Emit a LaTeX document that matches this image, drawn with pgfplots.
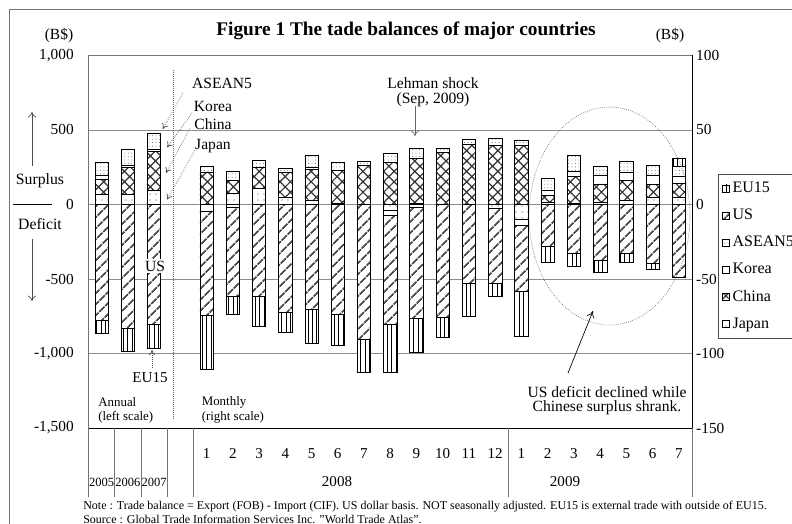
\documentclass[border=0pt]{standalone}
\usepackage{fontspec}
\setmainfont{Liberation Serif}
\usepackage{pgfplots}
\pgfplotsset{compat=1.18}
\usepackage{pgfplotstable}
\usetikzlibrary{patterns.meta,arrows.meta}

% Annual (left scale, B$)
\pgfplotstableread{
x Japan China Korea Asean
0 70 102 23 85
1 65 181 16 107
2 94 262 15 105
}\posA
\pgfplotstableread{
x US EU
0 -779 -87
1 -834 -150
2 -807 -157
}\negA
% Monthly (right scale, B$)
\pgfplotstableread{
x Japan China Korea Asean US EU
4 0.3 21.5 0 3.9 0 0
5 7.5 8.8 0 6.1 0 0
6 11 14 0 4.5 0 0
7 4.5 17.2 0 2.3 0 0
8 3.1 20.8 0.7 8.7 0 0
9 0.5 22.4 0 5.3 0 0
10 0.4 25.7 0 2.9 0 0
11 0 28.4 0 6 0 0
12 0.5 30.2 0 6.7 0 0
13 0.4 34.6 0 3 0 0
14 0 40.2 0 3.2 0 0
15 0 39.5 0 5.2 0 0
16 0 39.6 0 3.4 0 0
17 1.5 4.8 3.4 7.8 0 0
18 0.9 17.9 3.6 10.5 0 0
19 1.5 12.3 6 5.8 0 0
20 2.7 13.4 5.6 7.2 0 0
21 5.1 8.3 6 6.8 0 0
22 4.9 9.4 4.9 6.2 0 5.6
}\posM
\pgfplotstableread{
x Japan Korea US EU
4 0 -4.5 -70 -35.8
5 0 -1.8 -59.7 -12.5
6 0 0 -61.5 -20.1
7 0 0 -72.7 -13.4
8 0 0 -70.7 -22.8
9 0 0 -73.4 -21.2
10 0 0 -90.2 -22.5
11 -3.6 -3.8 -72.7 -32.5
12 0 -2.2 -74.5 -22.4
13 0 0 -75.6 -13.4
14 0 0 -52.8 -22.3
15 -2.9 0 -49.9 -8.7
16 -10.3 -3.8 -44.1 -30.4
17 0 0 -28.2 -10.5
18 0 0 -33.1 -8.5
19 0 0 -37.6 -7.8
20 0 0 -33.1 -5.6
21 0 0 -39.8 -3.4
22 0 0 -48.8 0
}\negM

\pgfplotsset{
  myleg/.style={legend image code/.code={\draw[##1,draw=black,line width=0.4pt] (0pt,-2.7pt) rectangle (5.4pt,2.7pt);}},
  sJapan/.style={draw=black, line width=0.5pt, fill=white, postaction={pattern={Dots[distance=4.5pt,radius=0.45pt]}, pattern color=black!70}, myleg},
  sChina/.style={draw=black, line width=0.5pt, fill=white, postaction={pattern={Hatch[angle=45,distance=5.5pt,line width=0.9pt]}, pattern color=black!80}, myleg},
  sKorea/.style={draw=black, line width=0.5pt, fill=white, myleg},
  sAsean/.style={draw=black, line width=0.5pt, fill=white, postaction={pattern={Dots[distance=2.6pt,radius=0.35pt]}, pattern color=black!65}, myleg},
  sUS/.style={draw=black, line width=0.5pt, fill=white, postaction={pattern={Lines[angle=45,distance=6.5pt,line width=1.4pt]}, pattern color=black!70}, myleg},
  sEU/.style={draw=black, line width=0.5pt, fill=white, postaction={pattern={Lines[angle=90,distance=3.3pt,line width=0.5pt]}, pattern color=black}, myleg},
  base/.style={at={(66.375pt,72pt)}, anchor=south west, scale only axis,
    width=452.6pt, height=279.4pt, xmin=-0.5, xmax=22.5,
    ybar stacked, bar width=0.51},
}

\begin{document}
\begin{tikzpicture}
\begin{scope}[x=0.75pt,y=-0.75pt,yshift=393pt]
\useasboundingbox (0,0) rectangle (792,524);
\draw[black!55, line width=0.6pt] (9,530) -- (9,9) -- (800,9);
\end{scope}

% Axis 1: annual positive, left scale, grid
\begin{axis}[base, ymin=-1500, ymax=1000, ytick={-1500,-1000,...,1000},
  ymajorgrids, grid style={black!45, line width=0.6pt},
  axis line style={black!55, line width=0.6pt}, major tick length=0pt,
  xtick={4,...,22}, xticklabels={1,2,3,4,5,6,7,8,9,10,11,12,1,2,3,4,5,6,7},
  yticklabel style={/pgf/number format/1000 sep={,}, /pgf/number format/assume math mode=true,
    font=\fontsize{11.5}{13}\selectfont, inner sep=0pt, xshift=-10.9pt},
  xticklabel style={font=\fontsize{11.3}{13}\selectfont, inner sep=0pt, anchor=center, yshift=-19pt}]
\addplot[sJapan] table[x=x,y=Japan]{\posA};
\addplot[sChina] table[x=x,y=China]{\posA};
\addplot[sKorea] table[x=x,y=Korea]{\posA};
\addplot[sAsean] table[x=x,y=Asean]{\posA};
\end{axis}

% Axis 2: annual negative
\begin{axis}[base, hide axis, ymin=-1500, ymax=1000]
\addplot[sUS] table[x=x,y=US]{\negA};
\addplot[sEU] table[x=x,y=EU]{\negA};
\end{axis}

% Axis 3: monthly positive, right scale, legend
\begin{axis}[base, ymin=-150, ymax=100, ytick={-150,-100,...,100},
  axis x line=none, axis y line*=right, axis line style={black, line width=0.7pt},
  major tick length=0pt,
  yticklabel style={/pgf/number format/assume math mode=true,
    font=\fontsize{11.5}{13}\selectfont, inner sep=0pt, anchor=west, xshift=3pt},
  reverse legend,
  legend cell align=left,
  legend style={overlay, at={(1.043,0.682)}, anchor=north west, draw=black!70, line width=0.5pt,
    font=\fontsize{12}{13}\selectfont, inner xsep=3pt, inner ysep=4pt, row sep=6.8pt,
    nodes={inner xsep=2pt}}]
\addplot[sJapan] table[x=x,y=Japan]{\posM}; \addlegendentry{Japan}
\addplot[sChina] table[x=x,y=China]{\posM}; \addlegendentry{China}
\addplot[sKorea] table[x=x,y=Korea]{\posM}; \addlegendentry{Korea}
\addplot[sAsean] table[x=x,y=Asean]{\posM}; \addlegendentry{ASEAN5}
\addplot[sUS] table[x=x,y=US]{\posM}; \addlegendentry{US}
\addplot[sEU] table[x=x,y=EU]{\posM}; \addlegendentry{EU15}
\end{axis}

% Axis 4: monthly negative
\begin{axis}[base, hide axis, ymin=-150, ymax=100]
\addplot[sJapan] table[x=x,y=Japan]{\negM};
\addplot[sKorea] table[x=x,y=Korea]{\negM};
\addplot[sUS] table[x=x,y=US]{\negM};
\addplot[sEU] table[x=x,y=EU]{\negM};
\end{axis}

\begin{scope}[x=0.75pt,y=-0.75pt,yshift=393pt]
% category table
\draw[black, line width=0.7pt] (88.5,428) -- (692,428);
\foreach \xx in {88.5,114.7,141.0,167.2,193.4,508.3,692}
  \draw[black!55, line width=0.6pt] (\xx,428) -- (\xx,497);
\begin{scope}[every node/.style={font=\fontsize{9.4}{11}\selectfont, inner sep=0pt}]
\node at (101.6,482) {2005};
\node at (127.9,482) {2006};
\node at (154.1,482) {2007};
\end{scope}
\begin{scope}[every node/.style={font=\fontsize{11.3}{13}\selectfont, inner sep=0pt}]
\node at (337,482) {2008};
\node at (565,482) {2009};
\end{scope}

% titles and scale labels
\node[font=\bfseries\fontsize{14.5}{17}\selectfont] at (406,31) {Figure 1 The tade balances of major countries};
\node[font=\fontsize{11.6}{13}\selectfont] at (59,36) {(B\$)};
\node[font=\fontsize{11.6}{13}\selectfont] at (670,36) {(B\$)};

% surplus / deficit
\node[font=\fontsize{11.8}{13}\selectfont] at (40,181) {Surplus};
\node[font=\fontsize{11.8}{13}\selectfont] at (40,224) {Deficit};
\draw[black, line width=0.6pt] (13,204) -- (52,204);
\draw[black!70, line width=0.5pt, -{To[length=4pt,width=6pt]}] (32,166) -- (32,112);
\draw[black!70, line width=0.5pt, -{To[length=4pt,width=6pt]}] (32,239) -- (32,301);

% annual / monthly separator
\draw[black!60, densely dotted, line width=0.5pt] (173,70) -- (173,420);
\begin{scope}[every node/.style={font=\fontsize{9.7}{11}\selectfont, inner sep=0pt, anchor=west}]
\node at (98,402) {Annual};
\node at (98,417) {(left scale)};
\node at (201.5,402) {Monthly};
\node at (201.5,417) {(right scale)};
\end{scope}

% stack labels
\begin{scope}[every node/.style={font=\fontsize{11.7}{13}\selectfont, inner sep=0pt}]
\node at (222,83) {ASEAN5};
\node at (213,106) {Korea};
\node at (213,124) {China};
\node at (213,146) {Japan};
\end{scope}
\begin{scope}[black!70, densely dotted, line width=0.5pt]
\draw[-{To[length=4pt,width=5pt]}] (183,93) -- (162.7,129);
\draw[-{To[length=4pt,width=5pt]}] (192,113) -- (167,147.5);
\draw[-{To[length=4pt,width=5pt]}] (190,128) -- (166,173);
\draw[-{To[length=4pt,width=5pt]}] (195,150) -- (167,199.5);
\end{scope}
\node[font=\fontsize{11.7}{13}\selectfont, fill=white, inner sep=1pt] at (155,266) {US};
\node[font=\fontsize{11.3}{13}\selectfont, inner sep=0pt] at (150,378) {EU15};
\draw[black!70, densely dotted, line width=0.5pt, -{To[length=4pt,width=5pt]}] (152,368) -- (152,350);

% Lehman
\node[font=\fontsize{11.7}{13}\selectfont, inner sep=0pt] at (433,83) {Lehman shock};
\node[font=\fontsize{11.7}{13}\selectfont, inner sep=0pt] at (433,100) {(Sep, 2009)};
\draw[black!60, line width=0.5pt, -{To[length=4pt,width=6pt]}] (415,106) -- (415,136);

% ellipse and comment
\draw[black!60, densely dotted, line width=0.5pt] (609.5,216) ellipse [x radius=80.5, y radius=109];
\draw[black, line width=0.5pt, -{To[length=5pt,width=6pt]}] (568,373) -- (593,311);
\node[font=\fontsize{11.7}{13}\selectfont, inner sep=0pt] at (607,392) {US deficit declined while};
\node[font=\fontsize{11.7}{13}\selectfont, inner sep=0pt] at (607,408) {Chinese surplus shrank.};

% notes
\node[anchor=west, inner sep=0pt, font=\fontsize{9}{11}\selectfont] at (83,507) {Note : Trade balance = Export (FOB) - Import (CIF). US dollar basis. NOT seasonally adjusted. EU15 is external trade with outside of EU15.};
\node[anchor=west, inner sep=0pt, font=\fontsize{9}{11}\selectfont] at (83,519) {Source : Global Trade Information Services Inc. "World Trade Atlas".};
\end{scope}
\end{tikzpicture}
\end{document}
